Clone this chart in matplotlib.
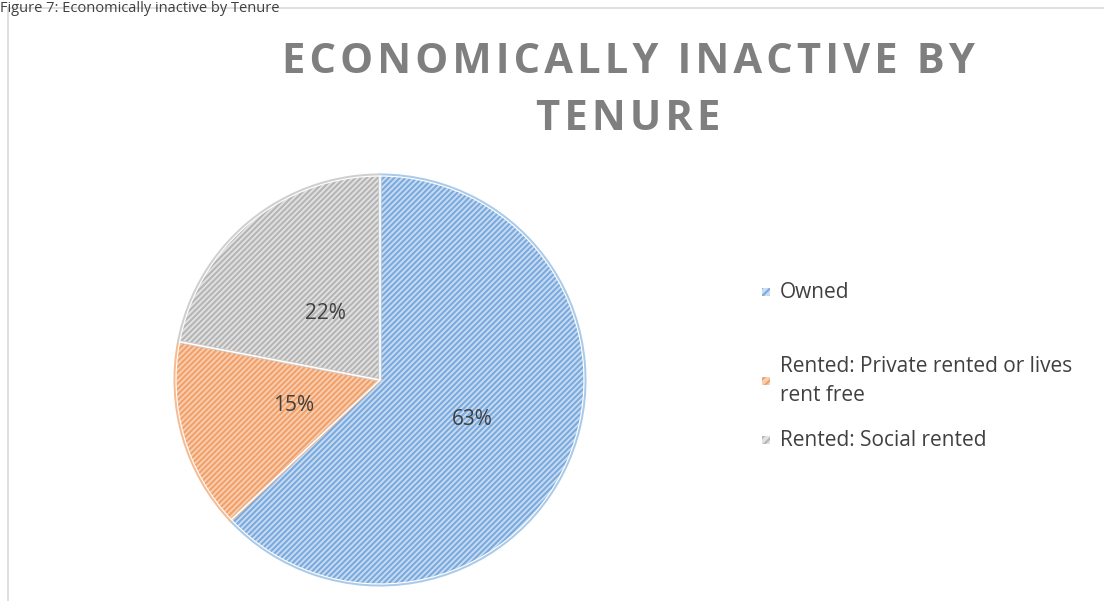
import matplotlib
matplotlib.use("Agg")
import numpy as np
import matplotlib.pyplot as plt
from matplotlib.patches import Rectangle

categories = ["Owned", "Rented: Private rented or lives rent free", "Rented: Social rented"]
values = [63, 15, 22]
display_labels = ["Owned", "Rented: Private rented or lives\nrent free", "Rented: Social rented"]
title_lines = ["ECONOMICALLY INACTIVE BY", "TENURE"]
caption = "Figure 7: Economically inactive by Tenure"

face_colors = ["#cadcf1", "#f9cfb2", "#e2e2e2"]
hatch_colors = ["#7aaade", "#f2a06a", "#b5b5b5"]
edge_colors = ["#a9cbe9", "#f6bb92", "#cfcfcf"]

plt.rcParams['font.family'] = ['Open Sans', 'DejaVu Sans']
plt.rcParams['hatch.linewidth'] = 1.5

W, H = 1104, 601
fig = plt.figure(figsize=(W / 100, H / 100), dpi=100)

# outer chart border
fig.add_artist(Rectangle((8 / W, -0.1), 1.2, 1 - 8 / H + 0.1, transform=fig.transFigure,
                         fill=False, edgecolor="#d9d9d9", linewidth=1.2))
# caption above the chart
fig.text(0 / W, 1 - 1 / H, caption, fontsize=10.5, color="#404040", va="top", ha="left")

cx, cy, r = 380, 380, 205
ax = fig.add_axes([(cx - r) / W, (H - cy - r) / H, 2 * r / W, 2 * r / H])

common = dict(startangle=90, counterclock=False, radius=1.0)
w1, _ = ax.pie(values, colors=face_colors, wedgeprops=dict(linewidth=0), **common)
w2, _ = ax.pie(values, wedgeprops=dict(linewidth=0, fill=False), **common)
for w, hc in zip(w2, hatch_colors):
    w.set_hatch('//////')
    w.set_edgecolor(hc)
w3, _, autotexts = ax.pie(values, wedgeprops=dict(fill=False, linewidth=2.2),
                          autopct='%1.0f%%', pctdistance=0.46,
                          textprops=dict(fontsize=15, color="#404040"), **common)
for w, ec in zip(w3, edge_colors):
    w.set_edgecolor(ec)
# white separation lines
w4, _ = ax.pie(values, wedgeprops=dict(fill=False, linewidth=0.8, edgecolor="white"), radius=0.995,
               startangle=90, counterclock=False)

# per-slice label distances (Excel-like placement)
label_dist = [0.49, 0.44, 0.42]
for w, t, d in zip(w3, autotexts, label_dist):
    ang = np.deg2rad((w.theta1 + w.theta2) / 2)
    t.set_position((d * np.cos(ang), d * np.sin(ang)))

ax.set_xlim(-1.0, 1.0)
ax.set_ylim(-1.0, 1.0)
ax.set_aspect('equal')
ax.axis('off')

hs = "\u200a"
title_spaced = "\n".join(hs.join(list(line)) for line in title_lines)
fig.text(628 / W, 1 - 91 / H, title_spaced, fontsize=30, fontweight='bold', color="#7f7f7f",
         ha='center', va='center', linespacing=1.5)

legend_y = [292, 381, 440]
for lbl, fc, hc, yy in zip(display_labels, face_colors, hatch_colors, legend_y):
    fig.add_artist(Rectangle((762 / W, 1 - (yy + 4) / H), 8 / W, 8 / H, transform=fig.transFigure,
                             facecolor=fc, edgecolor=hc, hatch='////', linewidth=0))
    fig.text(780 / W, 1 - yy / H, lbl, fontsize=15, color="#404040", ha='left', va='center',
             linespacing=1.45)

fig.savefig("out.png", dpi=100)
